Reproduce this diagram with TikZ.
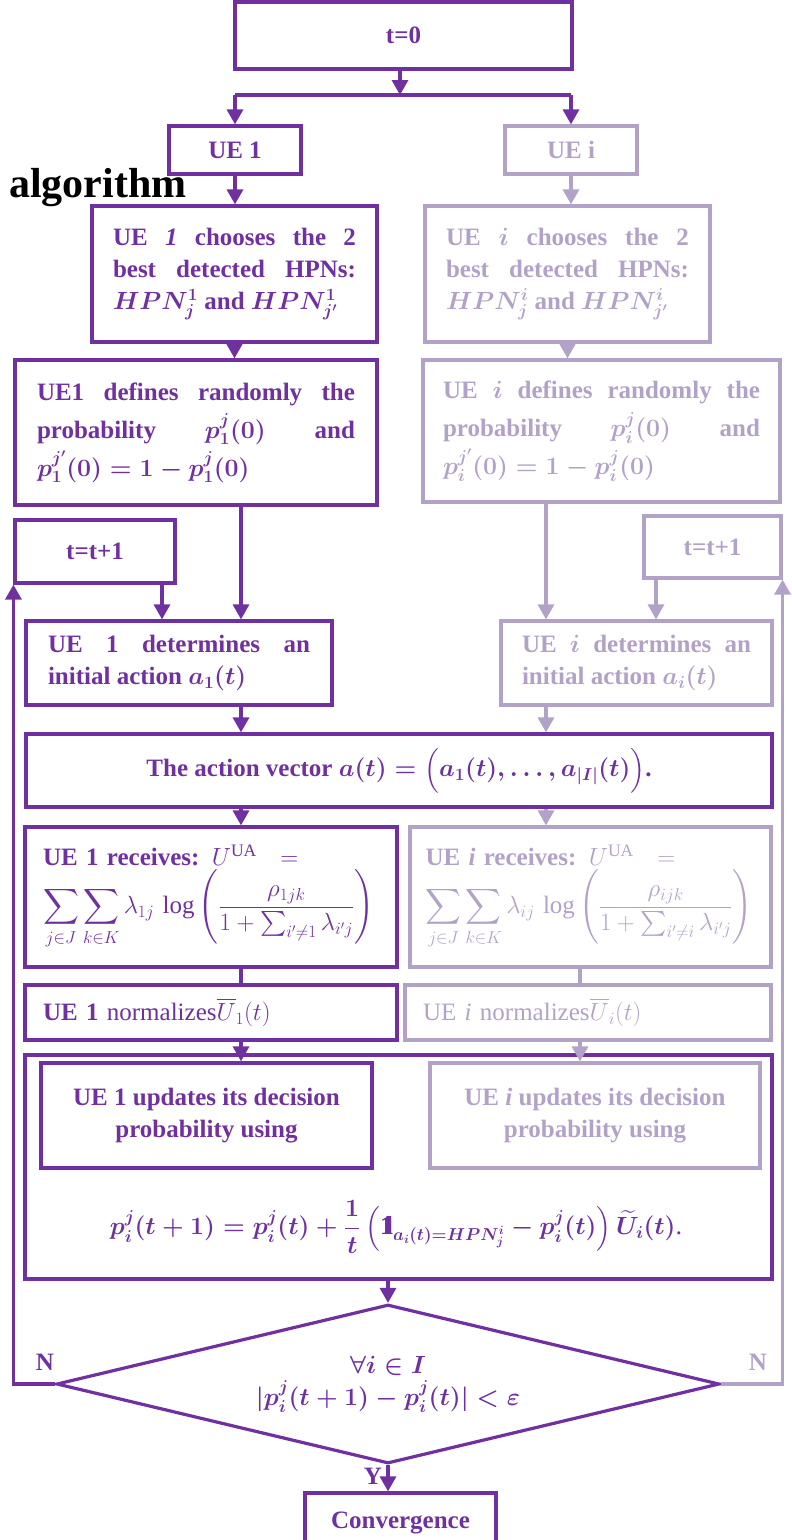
\documentclass[tikz,border=0pt]{standalone}
\usepackage{amsmath, bm}
\usepackage{fontspec}
\setmainfont{Liberation Serif}
\definecolor{UEdark}{HTML}{7030A0}
\definecolor{UElight}{HTML}{B3A2C7}
\usetikzlibrary{arrows.meta, shapes.geometric, calc}
\newcommand{\indicone}{\mathrm{1}\mkern-4.5mu\mathrm{l}}

\begin{document}
\begin{tikzpicture}[x=1pt, y=-1pt,
    flowbox/.style={line width=3.2pt, inner sep=0pt, font=\fontsize{25}{32}\selectfont\bfseries\boldmath},
    darkbox/.style={flowbox, draw=UEdark, text=UEdark},
    lightbox/.style={flowbox, draw=UElight, text=UElight},
    widefont/.style={font=\fontsize{25}{38}\selectfont\bfseries\boldmath},
    recvfont/.style={font=\fontsize{25}{32}\selectfont\bfseries\unboldmath},
    normfont/.style={font=\fontsize{25}{32}\selectfont\mdseries\unboldmath},
    darkline/.style={draw=UEdark, line width=3.2pt},
    lightline/.style={draw=UElight, line width=3.2pt},
    darkarr/.style={darkline, -{Triangle[width=16pt,length=15pt]}},
    lightarr/.style={lightline, -{Triangle[width=16pt,length=15pt]}}]
  \useasboundingbox (0,0) rectangle (792,1540);

  % start and split into the two UE columns
  \node[darkbox, minimum width=337pt, minimum height=67pt] (t0) at (403.5,35.5) {t=0};
  \coordinate (split) at (400,95);
  \coordinate (splitl) at (235,95);
  \coordinate (splitr) at (571,95);
  \node[darkbox, minimum width=132pt, minimum height=48pt] (ue1) at (235,150) {UE 1};
  \node[lightbox, minimum width=132pt, minimum height=48pt] (uei) at (571,150) {UE i};
  \node[anchor=base west, inner sep=0pt, font=\fontsize{42}{48}\selectfont\bfseries] (algo) at (9,197) {algorithm};

  \node[darkbox, minimum width=285pt, minimum height=136pt, text width=243pt, align=justify] (choose1) at (234.5,274)
    {UE \textit{1} chooses the 2\linebreak best detected HPNs:\linebreak $HPN_j^1$ and $HPN_{j'}^1$};
  \node[lightbox, minimum width=285pt, minimum height=136pt, text width=243pt, align=justify] (choosei) at (567.5,274)
    {UE $i$ chooses the 2\linebreak best detected HPNs:\linebreak $HPN_j^i$ and $HPN_{j'}^i$};
  \node[darkbox, widefont, minimum width=362pt, minimum height=145pt, text width=318pt, align=justify] (def1) at (196,432.5)
    {UE1 defines randomly the\linebreak probability $p_1^j(0)$ and\linebreak $p_1^{j'}(0)=1-p_1^j(0)$};
  \node[lightbox, widefont, minimum width=357pt, minimum height=142pt, text width=317pt, align=justify] (defi) at (601.5,431)
    {UE $i$ defines randomly the\linebreak probability $p_i^j(0)$ and\linebreak $p_i^{j'}(0)=1-p_i^j(0)$};

  \node[darkbox, minimum width=160pt, minimum height=63pt] (tl) at (95,551.5) {t=t+1};
  \node[lightbox, minimum width=137pt, minimum height=62pt] (tr) at (712.5,547) {t=t+1};

  \node[darkbox, minimum width=306pt, minimum height=84pt, text width=262pt, align=justify] (det1) at (179,663)
    {UE 1 determines an\linebreak initial action $a_1(t)$};
  \node[lightbox, minimum width=271pt, minimum height=84pt, text width=229pt, align=justify] (deti) at (636.5,663)
    {UE $i$ determines an\linebreak initial action $a_i(t)$};
  \node[darkbox, minimum width=746pt, minimum height=73pt] (vec) at (399,770.5)
    {The action vector $a(t)=\Big(a_1(t),\dots,a_{|I|}(t)\Big)$.};

  \node[darkbox, recvfont, minimum width=372pt, minimum height=140pt, text width=336pt, align=left] (rec1) at (211,897)
    {UE 1 receives: $U^{\mathrm{UA}}\ \ =$\\[3pt]
     $\displaystyle\sum_{j\in J}\sum_{k\in K}\lambda_{1j}\,\log\left(\frac{\rho_{1jk}}{1+\sum_{i'\neq 1}\lambda_{i'j}}\right)$};
  \node[lightbox, recvfont, minimum width=361pt, minimum height=140pt, text width=330pt, align=left] (reci) at (590.5,897)
    {UE \textit{i} receives: $U^{\mathrm{UA}}\ \ =$\\[3pt]
     $\displaystyle\sum_{j\in J}\sum_{k\in K}\lambda_{ij}\,\log\left(\frac{\rho_{ijk}}{1+\sum_{i'\neq i}\lambda_{i'j}}\right)$};
  \node[darkbox, normfont, minimum width=372pt, minimum height=55pt, text width=336pt, align=left] (norm1) at (211,1012.5)
    {\textbf{UE 1} normalizes$\overline{U}_1(t)$};
  \node[lightbox, normfont, minimum width=366pt, minimum height=55pt, text width=330pt, align=left] (normi) at (588,1012.5)
    {UE \textit{i} normalizes$\overline{U}_i(t)$};

  % update block
  \node[darkbox, minimum width=747pt, minimum height=224pt] (big) at (398.5,1167) {};
  \node[darkbox, minimum width=331pt, minimum height=105pt, align=center] (upd1) at (206.5,1115.5)
    {UE 1 updates its decision\\probability using};
  \node[lightbox, minimum width=330pt, minimum height=105pt, align=center] (updi) at (595,1115.5)
    {UE \textit{i} updates its decision\\probability using};
  \node[text=UEdark, inner sep=0pt, font=\fontsize{26}{32}\selectfont\boldmath] (upform) at (396,1227)
    {$p_i^j(t+1)=p_i^j(t)+\dfrac{1}{t}\left(\indicone_{a_i(t)=HPN_j^i}-p_i^j(t)\right)\widetilde{U}_i(t)$.};

  % convergence test
  \node[darkbox, shape=diamond, aspect=4.17, minimum width=663pt, minimum height=159pt, align=center] (dia) at (388,1384)
    {$\forall i\in I$\\$|p_i^j(t+1)-p_i^j(t)|<\varepsilon$};
  \node[darkbox, minimum width=191pt, minimum height=59pt] (conv) at (400.5,1522.5) {Convergence};
  \node[text=UEdark, font=\fontsize{25}{32}\selectfont\bfseries] (nl) at (45,1362) {N};
  \node[text=UElight, font=\fontsize{25}{32}\selectfont\bfseries] (nr) at (758,1362) {N};
  \node[text=UEdark, font=\fontsize{25}{32}\selectfont\bfseries] (yl) at (373,1476) {Y};

  \coordinate (col1) at (241,0);
  \coordinate (coli) at (546,0);
  \coordinate (colt) at (162,0);
  \coordinate (colr) at (656,0);
  \coordinate (colu) at (580,0);

  \draw[darkarr] (t0.south -| split) -- (split);
  \draw[darkline] (splitl) -- (splitr);
  \draw[darkarr] (splitl) -- (ue1.north);
  \draw[darkarr] (splitr) -- (uei.north);
  \draw[darkarr] (ue1.south) -- (ue1.south |- choose1.north);
  \draw[lightarr] (uei.south) -- (uei.south |- choosei.north);
  \draw[darkarr] (choose1.south) -- (choose1.south |- def1.north);
  \draw[lightarr] (choosei.south) -- (choosei.south |- defi.north);
  \draw[darkarr] (def1.south -| col1) -- (det1.north -| col1);
  \draw[lightarr] (defi.south -| coli) -- (deti.north -| coli);
  \draw[darkarr] (tl.south -| colt) -- (det1.north -| colt);
  \draw[lightarr] (tr.south -| colr) -- (deti.north -| colr);
  \draw[darkarr] (det1.south -| col1) -- (vec.north -| col1);
  \draw[lightarr] (deti.south -| coli) -- (vec.north -| coli);
  \draw[darkarr] (vec.south -| col1) -- (rec1.north -| col1);
  \draw[lightarr] (vec.south -| coli) -- (reci.north -| coli);
  \draw[darkline] (rec1.south -| col1) -- (norm1.north -| col1);
  \draw[lightline] (reci.south -| colu) -- (normi.north -| colu);
  \draw[darkarr] (norm1.south -| col1) -- (upd1.north -| col1);
  \draw[lightarr] (normi.south -| colu) -- (updi.north -| colu);
  \draw[darkarr] (big.south -| dia.north) -- (dia.north);
  \draw[darkarr] (dia.south) -- (dia.south |- conv.north);
  % loops back for the next step
  \draw[darkarr] (dia.west) -| (tl.south west);
  \draw[lightarr] (dia.east) -| (tr.south east);
\end{tikzpicture}
\end{document}
